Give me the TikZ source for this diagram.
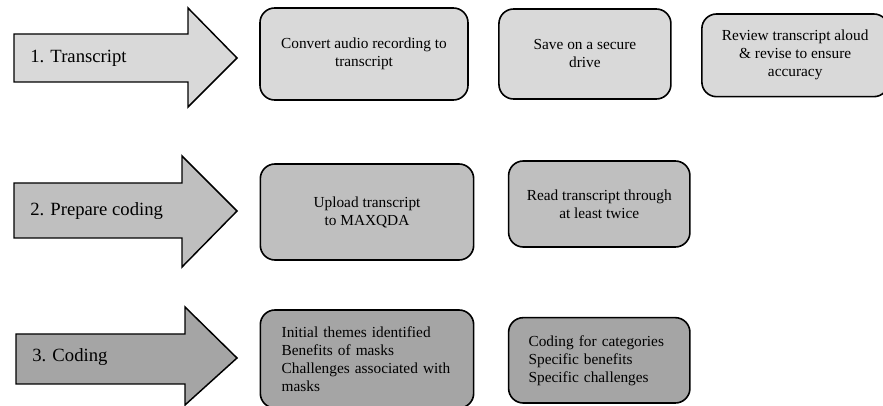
\documentclass[tikz,border=0pt]{standalone}
\usepackage{fontspec}
\setmainfont{Liberation Serif}
\usetikzlibrary{positioning}

\definecolor{stepone}{HTML}{D9D9D9}
\definecolor{steptwo}{HTML}{BFBFBF}
\definecolor{stepthree}{HTML}{A5A5A5}

\tikzset{
  phase/.style={draw=black, line width=1.1pt, line join=miter},
  phaselabel/.style={anchor=west, font=\fontsize{14}{16}\selectfont, inner sep=0pt},
  task/.style={draw=black, line width=1.2pt, rounded corners=11pt, align=center,
    font=\fontsize{11.5}{13.5}\selectfont, inner sep=0pt},
}

\begin{document}
\begin{tikzpicture}[x=0.75pt, y=-0.75pt, node distance=22pt]
            \useasboundingbox (0,0) rectangle (883,406);

            % phase arrows
            \draw[phase, fill=stepone] (14,34) -- (188,34) -- (188,8) -- (237,58) -- (188,107) -- (188,82) -- (14,82) -- cycle;
            \draw[phase, fill=steptwo] (14,183) -- (182,183) -- (182,156) -- (237,211) -- (182,267) -- (182,238) -- (14,238) -- cycle;
            \draw[phase, fill=stepthree] (16,334) -- (185,334) -- (185,307) -- (237,358) -- (185,405) -- (185,384) -- (16,384) -- cycle;

            \node (transcript) [phaselabel] at (30,58) {1. Transcript};
            \node (prepare) [phaselabel] at (30,211) {2. Prepare coding};
            \node (coding) [phaselabel] at (32,357) {3. Coding};

            % row 1
            \node (convert) [task, fill=stepone, minimum width=156pt, minimum height=69pt] at (364,54) {Convert audio recording to\\transcript};
            \node (save) [task, fill=stepone, minimum width=129pt, minimum height=67.5pt, right=22pt of convert] {Save on a secure\\drive};
            \node (review) [task, fill=stepone, minimum width=140pt, minimum height=62pt, right=22pt of save, yshift=-1pt] {Review transcript aloud\\\& revise to ensure\\accuracy};

            % row 2
            \node (upload) [task, fill=steptwo, minimum width=160pt, minimum height=72pt] at (367,212) {Upload transcript\\to MAXQDA};
            \node (read) [task, fill=steptwo, minimum width=136pt, minimum height=64.5pt, right=25pt of upload, yshift=6pt] {Read transcript through\\at least twice};

            % row 3
            \node (themes) [task, fill=stepthree, minimum width=160pt, minimum height=73.5pt, align=left, text width=128pt] at (367,359) {Initial themes identified\\Benefits of masks\\Challenges associated with\\masks};
            \node (categories) [task, fill=stepthree, minimum width=136pt, minimum height=64pt, align=left, text width=106pt, right=25pt of themes, yshift=-1pt] {Coding for categories\\Specific benefits\\Specific challenges};
        \end{tikzpicture}
\end{document}
